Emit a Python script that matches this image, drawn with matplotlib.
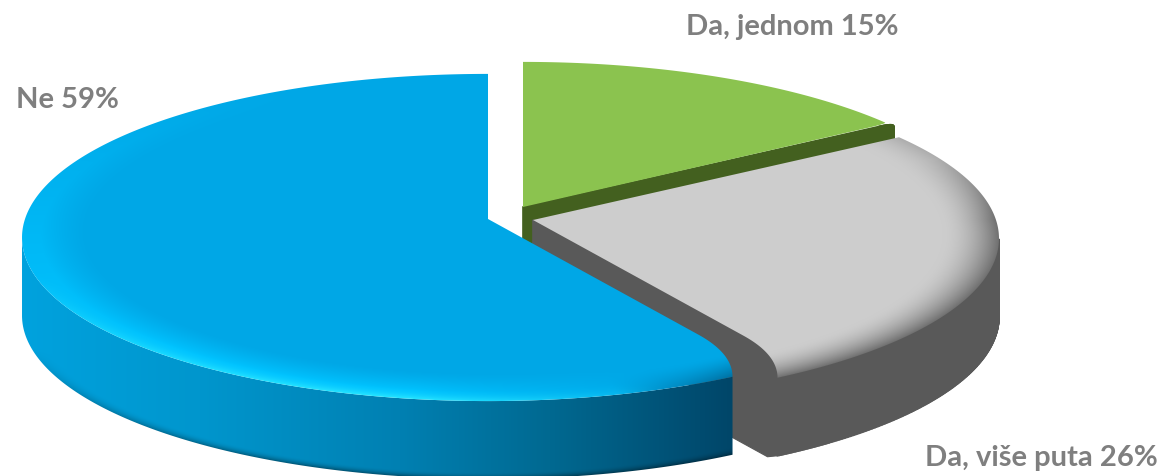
#!/usr/bin/env python3
# -*- coding: utf-8 -*-
# exploded 3d pie, drawn by hand because matplotlib has no perspective pie

import numpy as np
import matplotlib
matplotlib.use('Agg')
import matplotlib.pyplot as plt
from matplotlib.path import Path
from matplotlib.patches import PathPatch, Polygon

labels = ['Da, jednom', 'Da, više puta', 'Ne']
shares = [15, 26, 59]

# view
W, H = 1165, 476
A, B, K = 463, 161.5, 0.113   # x radius, y radius, perspective
DEPTH = 78
centers = [(523, 207), (533, 220), (488, 219)]
label_pos = [(686, 27), (925, 458), (16, 100)]

plt.rcParams['font.family'] = ['Lato', 'DejaVu Sans']

xx, yy = np.meshgrid(np.arange(W) + 0.5, np.arange(H) + 0.5)


def view_angle(t):
    # the original 3d view stretches the upper right quadrant a little
    return t + np.radians(3.2) * np.maximum(np.sin(2 * t), 0)


def project(center, theta):
    u = np.sin(theta)
    v = np.cos(theta)
    den = 1 + K * v
    return np.column_stack([center[0] + A * u / den, center[1] - B * v / den])


def unproject(center, x, y):
    dx = (x - center[0]) / A
    dy = (center[1] - y) / B
    v = dy / (1 - K * dy)
    u = dx * (1 + K * v)
    return u, v


def outline(center, t_from, t_to, t_corner, keep=0.86):
    """top face outline: apex, arc, then rounded shoulder back to the radial edge"""
    arc = project(center, np.linspace(t_from, t_to, 400))
    corner = project(center, np.array([t_corner]))[0]
    apex = np.array(center, dtype=float)
    p2 = arc[-1]
    f = (p2[0] - apex[0]) / (corner[0] - apex[0])
    ctrl = apex + (corner - apex) * f
    p0 = apex + (corner - apex) * f * keep
    s = np.linspace(0, 1, 30)[:, None]
    bez = (1 - s) ** 2 * p2 + 2 * s * (1 - s) * ctrl + s ** 2 * p0
    return np.vstack([apex, arc, bez]), arc


def draw_image(ax, rgb, pts, zorder):
    im = ax.imshow(np.clip(rgb, 0, 255) / 255, extent=[0, W, H, 0], interpolation='bilinear',
                   zorder=zorder, aspect='auto')
    patch = PathPatch(Path(np.vstack([pts, pts[0]]), closed=True), transform=ax.transData,
                      fc='none', ec='none')
    ax.add_patch(patch)
    im.set_clip_path(patch)


def mix(a, b, t):
    a = np.asarray(a, dtype=float)
    b = np.asarray(b, dtype=float)
    return a + (b - a) * t[..., None]


def draw_walls(ax, pts, color, zorder, start=0):
    # extrude the edges of the outline downwards, back edges can be skipped with start
    n = len(pts)
    for i in range(start, n):
        p, q = pts[i], pts[(i + 1) % n]
        quad = [p, q, q + [0, DEPTH], p + [0, DEPTH]]
        ax.add_patch(Polygon(quad, closed=True, fc=color, ec=color, lw=1.2, zorder=zorder))


# angles from the shares, clockwise from straight up
edges = view_angle(np.cumsum([0] + shares) / sum(shares) * 2 * np.pi)
shoulder = np.radians(4)

fig = plt.figure(figsize=(W / 100, H / 100), dpi=100)
ax = fig.add_axes([0, 0, 1, 1])

# green, the wall reaches a bit further than the top face
green_wall, _ = outline(centers[0], edges[0], edges[1] + np.radians(1.0), edges[1], keep=0.96)
draw_walls(ax, green_wall, '#43601F', 1, start=len(green_wall) - 32)
green_top, _ = outline(centers[0], edges[0], edges[1] - np.radians(0.8), edges[1] - np.radians(0.4), keep=0.96)
ax.add_patch(Polygon(green_top, closed=True, fc='#8BC34F', ec='none', zorder=2))

# grey, flat wall and darkening rim on top
grey_top, grey_arc = outline(centers[1], edges[1], edges[2] + shoulder, edges[2])
back = np.cos(np.linspace(edges[1], edges[2] + shoulder, 400)) > -K
draw_walls(ax, grey_top, '#595959', 3, start=1 + int(back.sum()))
# the wall runs on straight under the shoulder, down to a sharp tip
tip = grey_arc[-1] + [-10, DEPTH + 1]
run = (project(centers[1], edges[2:3])[0] - np.array(centers[1])) * 0.3
ax.add_patch(Polygon([grey_top[-1], grey_arc[-1], grey_arc[-1] + [0, DEPTH], tip, tip - run], closed=True,
                     fc='#595959', ec='#595959', lw=0.8, zorder=3))
u, v = unproject(centers[1], xx, yy)
r = np.hypot(u, v)
nv = v / np.maximum(r, 1e-6)
rim = np.clip((r - 0.88) / 0.12, 0, 1) ** 1.8 * (1 - 0.65 * np.clip(nv * 2.5, 0, 1))
draw_image(ax, mix((205, 205, 205), (112, 112, 112), rim), grey_top, 4)

# blue runs from straight up anticlockwise back to its edge
blue_top, blue_arc = outline(centers[2], edges[3], edges[2] + shoulder, edges[2])
theta = np.linspace(edges[3], edges[2] + shoulder, 400)
wall_arc = blue_arc[np.cos(theta) < -K]
wall_pts = np.vstack([wall_arc, wall_arc[::-1] + [0, DEPTH]])

# wall gradient from left to right
stop_x = [22, 200, 400, 550, 700, 732]
stop_g = [162, 150, 128, 105, 76, 70]
stop_b = [222, 205, 178, 145, 112, 105]
wall_rgb = np.dstack([np.zeros_like(xx), np.interp(xx, stop_x, stop_g), np.interp(xx, stop_x, stop_b)])
u, v = unproject(centers[2], xx, yy - DEPTH)
r = np.hypot(u, v)
nv = v / np.maximum(r, 1e-6)
fringe = np.clip((r - 0.965) / 0.035, 0, 1) ** 2 * np.clip(-nv * 1.6 - 0.5, 0, 1)
draw_image(ax, wall_rgb * (1 - 0.4 * fringe[..., None]), wall_pts, 5)

# blue top, wide light ring and a thin bright line on the front left
u, v = unproject(centers[2], xx, yy)
r = np.hypot(u, v)
nu = u / np.maximum(r, 1e-6)
nv = v / np.maximum(r, 1e-6)
rim = np.clip((r - 0.86) / 0.10, 0, 1) ** 1.3
side = np.clip((0.35 - nu) / 0.5, 0, 1)
ring = rim * side * np.clip(0.55 - 0.6 * nv, 0, 1)
line = np.clip((r - 0.945) / 0.055, 0, 1) ** 2 * side * np.clip(-nv * 1.6 - 0.55, 0, 1)
dark = np.clip((r - 0.9) / 0.1, 0, 1) ** 1.5 * np.clip((nu - 0.25) / 0.3, 0, 1) * np.clip(-nv * 2, 0, 1)
blue_rgb = mix((0, 167, 230), (0, 195, 255), ring)
blue_rgb = blue_rgb + (np.array([40., 230., 255.]) - blue_rgb) * line[..., None]
blue_rgb = blue_rgb + (np.array([0., 95., 140.]) - blue_rgb) * dark[..., None]
draw_image(ax, blue_rgb, blue_top, 6)

for lab, val, pos in zip(labels, shares, label_pos):
    ax.text(pos[0], pos[1], f'{lab} {val}%', fontsize=21, fontweight='bold', color='#7F7F7F',
            va='center', ha='left', zorder=10)

ax.set_xlim(0, W)
ax.set_ylim(H, 0)
ax.axis('off')

fig.savefig('out.png', dpi=100)
